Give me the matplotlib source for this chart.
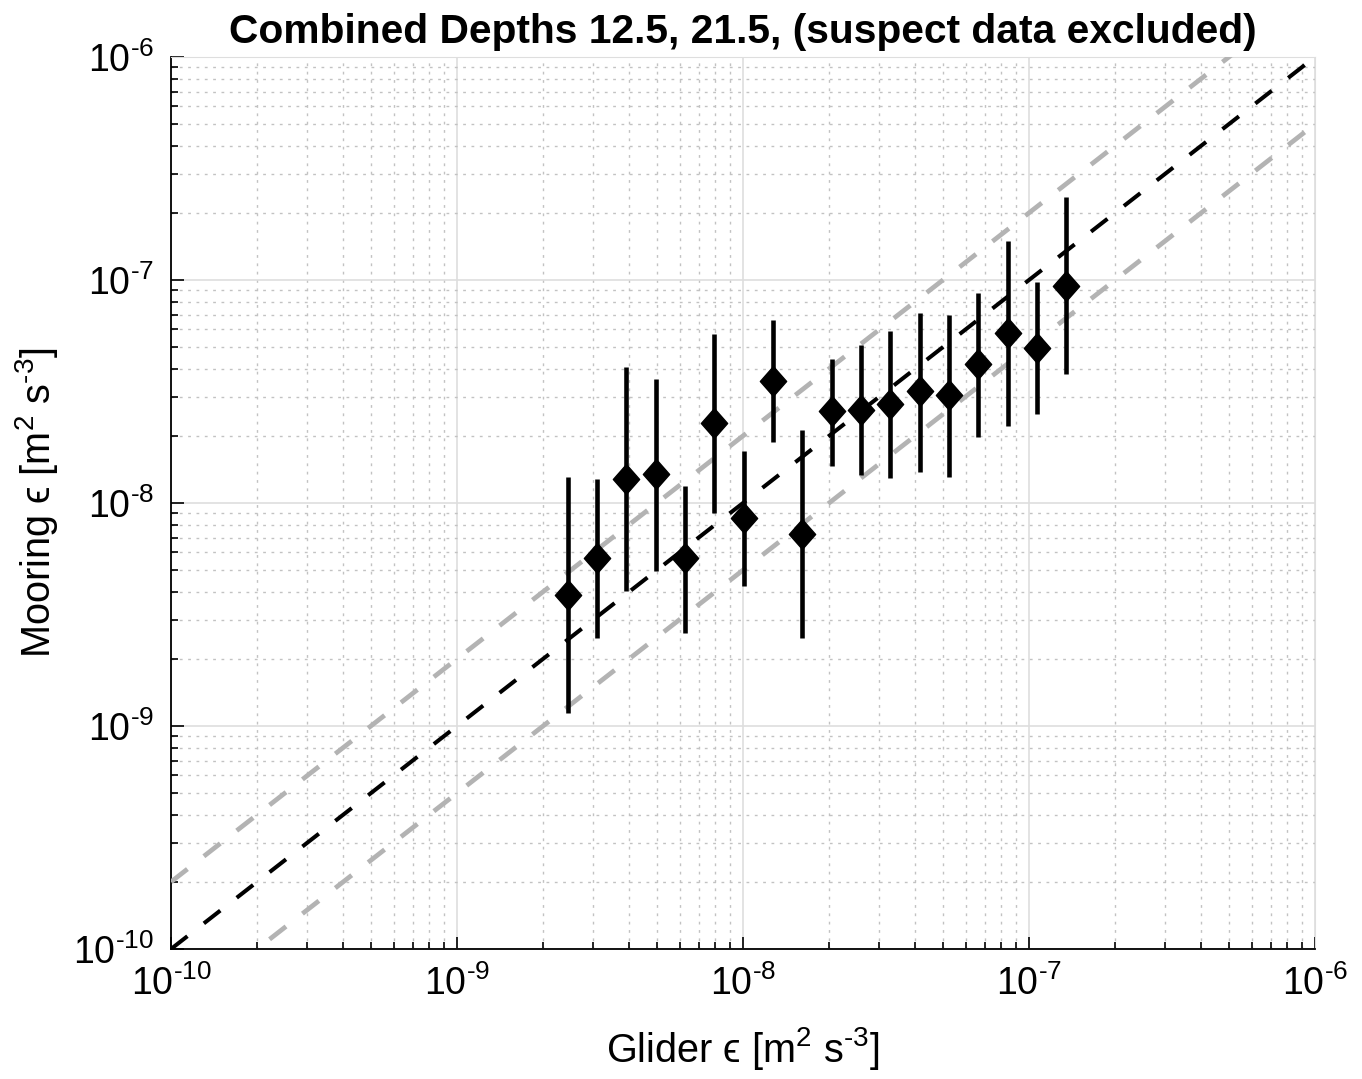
import matplotlib
matplotlib.use('Agg')
import matplotlib.pyplot as plt
import numpy as np
from matplotlib.ticker import LogLocator, NullFormatter, FuncFormatter

plt.rcParams['font.family'] = ['Liberation Sans', 'DejaVu Sans']
plt.rcParams['mathtext.fontset'] = 'custom'
plt.rcParams['mathtext.rm'] = 'Liberation Sans'
plt.rcParams['mathtext.it'] = 'Liberation Sans:italic'
plt.rcParams['mathtext.bf'] = 'Liberation Sans:bold'
plt.rcParams['mathtext.fallback'] = 'stixsans'
plt.rcParams['lines.scale_dashes'] = False

# glider epsilon (bin centres) and mooring epsilon with error ranges
glider_eps = [2.44e-9, 3.09e-9, 3.91e-9, 4.95e-9, 6.27e-9, 7.93e-9, 1.006e-8, 1.27e-8, 1.61e-8,
              2.04e-8, 2.59e-8, 3.27e-8, 4.15e-8, 5.25e-8, 6.65e-8, 8.42e-8, 1.067e-7, 1.35e-7]
mooring_eps = [3.87e-9, 5.65e-9, 1.28e-8, 1.345e-8, 5.65e-9, 2.28e-8, 8.54e-9, 3.52e-8, 7.26e-9,
               2.59e-8, 2.61e-8, 2.77e-8, 3.18e-8, 3.05e-8, 4.19e-8, 5.77e-8, 4.97e-8, 9.4e-8]
mooring_hi = [1.31e-8, 1.28e-8, 4.06e-8, 3.59e-8, 1.196e-8, 5.72e-8, 1.71e-8, 6.6e-8, 2.12e-8,
              4.44e-8, 5.09e-8, 5.9e-8, 7.11e-8, 6.95e-8, 8.72e-8, 1.49e-7, 9.8e-8, 2.35e-7]
mooring_lo = [1.14e-9, 2.47e-9, 4.03e-9, 4.97e-9, 2.62e-9, 9.05e-9, 4.26e-9, 1.88e-8, 2.47e-9,
              1.465e-8, 1.33e-8, 1.29e-8, 1.38e-8, 1.31e-8, 1.98e-8, 2.21e-8, 2.51e-8, 3.78e-8]

# reference lines: 1:1 and factor of 2
line_x = [1e-10, 1e-6]
ref_factors = [2.0, 0.5]

HY = '\u2010'  # short hyphen like the original, not a minus sign

fig = plt.figure(figsize=(13.62, 10.79), dpi=100)
ax = fig.add_axes([171 / 1362, 1 - 949 / 1079, (1315 - 171) / 1362, (949 - 57) / 1079])
ax.set_xscale('log')
ax.set_yscale('log')

lx = np.array(line_x)
for f in ref_factors:
    ax.plot(lx, lx * f, color=(0.7, 0.7, 0.7), lw=3.4, dashes=(15, 15), zorder=3)
ax.plot(lx, lx, color='k', lw=2.9, dashes=(15, 15), zorder=3)

ge = np.array(glider_eps)
me = np.array(mooring_eps)
ax.vlines(ge, mooring_lo, mooring_hi, color='k', lw=3.3, zorder=4)
diamond = [(0, 1), (0.88, 0), (0, -1), (-0.88, 0), (0, 1)]
ax.plot(ge, me, linestyle='none', marker=diamond, markersize=21.5, color='k', zorder=5)

ax.set_xlim(1e-10, 1e-6)
ax.set_ylim(1e-10, 1e-6)


def dec_label(v, pos):
    e = int(round(np.log10(v)))
    s = str(e).replace('-', HY)
    return r'$\mathdefault{10^{%s}}$' % s


for axis in (ax.xaxis, ax.yaxis):
    axis.set_major_locator(LogLocator(base=10, numticks=10))
    axis.set_major_formatter(FuncFormatter(dec_label))
    axis.set_minor_locator(LogLocator(base=10, subs=np.arange(2, 10), numticks=20))
    axis.set_minor_formatter(NullFormatter())

ax.grid(True, which='major', color=(0.87, 0.87, 0.87), lw=1.2, linestyle='-', zorder=0)
ax.grid(True, which='minor', color=(0.76, 0.76, 0.76), lw=1.0, linestyle=(0, (2, 4)), zorder=0)
ax.set_axisbelow(True)

ax.spines['top'].set_color((0.87, 0.87, 0.87))
ax.spines['right'].set_color((0.87, 0.87, 0.87))
ax.spines['left'].set_linewidth(1.3)
ax.spines['bottom'].set_linewidth(1.3)
ax.tick_params(which='both', direction='in', top=False, right=False, labelsize=27, width=1.2)
ax.tick_params(which='major', length=9, pad=12)
ax.tick_params(which='minor', length=5)

unit = r'[m$^2$ s$^{%s3}$]' % HY
ax.set_xlabel('Glider \u03f5 ' + unit, fontsize=28.5, labelpad=16)
ax.set_ylabel('Mooring \u03f5 ' + unit, fontsize=28.5)
ax.yaxis.set_label_coords(-0.097, 0.5)
ax.set_title('Combined Depths 12.5, 21.5, (suspect data excluded)', fontsize=29.3,
             fontweight='bold', pad=10)

fig.savefig('out.png', dpi=100)
